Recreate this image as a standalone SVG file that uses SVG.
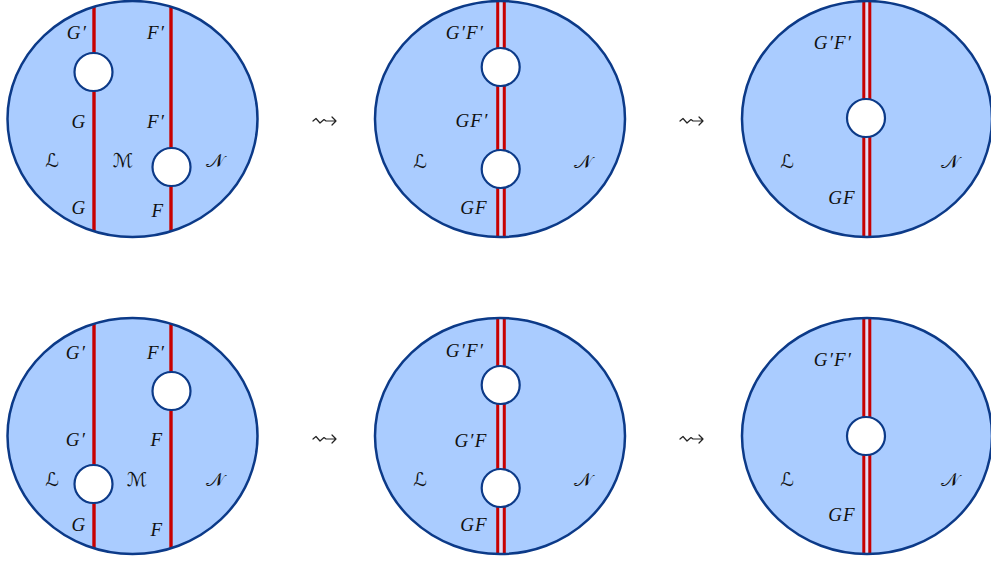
<svg xmlns="http://www.w3.org/2000/svg" width="991" height="562" viewBox="0 0 991 562">
<style>
.disk{fill:#aaccff;stroke:none}
.rim{fill:none;stroke:#0c3a88;stroke-width:2.5}
.hole{fill:#ffffff;stroke:#0c3a88;stroke-width:2.2}
.wire{stroke:#c80000;stroke-width:3.4;fill:none}
.wire2{stroke:#c80000;stroke-width:3;fill:none}
.gap{stroke:#e4dcf2;stroke-width:3.4;fill:none}
.lbl{font-family:"Liberation Serif","DejaVu Serif",serif;font-style:italic;font-size:19px;letter-spacing:1.2px;fill:#111;text-anchor:middle}
.cal{font-family:"DejaVu Serif","DejaVu Sans","Noto Sans",serif;font-size:19px;fill:#111;text-anchor:middle}
.arr{fill:none;stroke:#222;stroke-width:1.2;stroke-linejoin:round;stroke-linecap:round}
</style>
<defs>
<clipPath id="c11"><ellipse cx="132.5" cy="119" rx="125" ry="118"/></clipPath>
<clipPath id="c12"><ellipse cx="500" cy="119" rx="125" ry="118"/></clipPath>
<clipPath id="c13"><ellipse cx="867" cy="119" rx="125" ry="118"/></clipPath>
<clipPath id="c21"><ellipse cx="132.5" cy="436" rx="125" ry="118"/></clipPath>
<clipPath id="c22"><ellipse cx="500" cy="436" rx="125" ry="118"/></clipPath>
<clipPath id="c23"><ellipse cx="867" cy="436" rx="125" ry="118"/></clipPath>
<path id="squig" d="M0,0 L3,-2.5 L7,2 L11,-1.5 L13,0 L23,0 M19,-4 L23,0 L19,4"/>
</defs>

<g id="panel-1-1">
<ellipse class="disk" cx="132.5" cy="119" rx="125" ry="118"/>
<g clip-path="url(#c11)">
<line class="wire" x1="94" y1="0" x2="94" y2="240"/>
<line class="wire" x1="171" y1="0" x2="171" y2="240"/>
</g>
<circle class="hole" cx="93.5" cy="72" r="19"/>
<circle class="hole" cx="171.5" cy="167" r="19"/>
<ellipse class="rim" cx="132.5" cy="119" rx="125" ry="118"/>
<text class="lbl" x="77" y="39">G′</text>
<text class="lbl" x="156" y="39">F′</text>
<text class="lbl" x="79" y="128">G</text>
<text class="lbl" x="156" y="128">F′</text>
<text class="cal" x="52" y="167">ℒ</text>
<text class="cal" x="123" y="167">ℳ</text>
<text class="cal" x="215" y="167">𝒩</text>
<text class="lbl" x="79" y="214">G</text>
<text class="lbl" x="158" y="217">F</text>
</g>

<g id="panel-1-2">
<ellipse class="disk" cx="500" cy="119" rx="125" ry="118"/>
<g clip-path="url(#c12)">
<line class="gap" x1="501" y1="0" x2="501" y2="240"/>
<line class="wire2" x1="497.7" y1="0" x2="497.7" y2="240"/>
<line class="wire2" x1="504.3" y1="0" x2="504.3" y2="240"/>
</g>
<circle class="hole" cx="500.7" cy="67" r="19"/>
<circle class="hole" cx="500.7" cy="169" r="19"/>
<ellipse class="rim" cx="500" cy="119" rx="125" ry="118"/>
<text class="lbl" x="465" y="39">G′F′</text>
<text class="lbl" x="472" y="127">GF′</text>
<text class="cal" x="420" y="168">ℒ</text>
<text class="cal" x="583" y="168">𝒩</text>
<text class="lbl" x="474" y="214">GF</text>
</g>

<g id="panel-1-3">
<ellipse class="disk" cx="867" cy="119" rx="125" ry="118"/>
<g clip-path="url(#c13)">
<line class="gap" x1="866.8" y1="0" x2="866.8" y2="240"/>
<line class="wire2" x1="863.8" y1="0" x2="863.8" y2="240"/>
<line class="wire2" x1="869.8" y1="0" x2="869.8" y2="240"/>
</g>
<circle class="hole" cx="866" cy="118" r="19"/>
<ellipse class="rim" cx="867" cy="119" rx="125" ry="118"/>
<text class="lbl" x="833" y="49">G′F′</text>
<text class="cal" x="787" y="168">ℒ</text>
<text class="cal" x="950" y="168">𝒩</text>
<text class="lbl" x="842" y="204">GF</text>
</g>

<g id="panel-2-1">
<ellipse class="disk" cx="132.5" cy="436" rx="125" ry="118"/>
<g clip-path="url(#c21)">
<line class="wire" x1="94" y1="315" x2="94" y2="560"/>
<line class="wire" x1="171" y1="315" x2="171" y2="560"/>
</g>
<circle class="hole" cx="171.5" cy="391" r="19"/>
<circle class="hole" cx="93.5" cy="484" r="19"/>
<ellipse class="rim" cx="132.5" cy="436" rx="125" ry="118"/>
<text class="lbl" x="76" y="359">G′</text>
<text class="lbl" x="156" y="359">F′</text>
<text class="lbl" x="76" y="446">G′</text>
<text class="lbl" x="157" y="446">F</text>
<text class="cal" x="52" y="486">ℒ</text>
<text class="cal" x="137" y="486">ℳ</text>
<text class="cal" x="215" y="486">𝒩</text>
<text class="lbl" x="79" y="531">G</text>
<text class="lbl" x="157" y="536">F</text>
</g>

<g id="panel-2-2">
<ellipse class="disk" cx="500" cy="436" rx="125" ry="118"/>
<g clip-path="url(#c22)">
<line class="gap" x1="501" y1="315" x2="501" y2="560"/>
<line class="wire2" x1="497.7" y1="315" x2="497.7" y2="560"/>
<line class="wire2" x1="504.3" y1="315" x2="504.3" y2="560"/>
</g>
<circle class="hole" cx="500.7" cy="385" r="19"/>
<circle class="hole" cx="500.7" cy="488" r="19"/>
<ellipse class="rim" cx="500" cy="436" rx="125" ry="118"/>
<text class="lbl" x="465" y="357">G′F′</text>
<text class="lbl" x="471" y="447">G′F</text>
<text class="cal" x="420" y="486">ℒ</text>
<text class="cal" x="583" y="486">𝒩</text>
<text class="lbl" x="474" y="531">GF</text>
</g>

<g id="panel-2-3">
<ellipse class="disk" cx="867" cy="436" rx="125" ry="118"/>
<g clip-path="url(#c23)">
<line class="gap" x1="866.8" y1="315" x2="866.8" y2="560"/>
<line class="wire2" x1="863.8" y1="315" x2="863.8" y2="560"/>
<line class="wire2" x1="869.8" y1="315" x2="869.8" y2="560"/>
</g>
<circle class="hole" cx="866" cy="436" r="19"/>
<ellipse class="rim" cx="867" cy="436" rx="125" ry="118"/>
<text class="lbl" x="833" y="366">G′F′</text>
<text class="cal" x="787" y="486">ℒ</text>
<text class="cal" x="950" y="486">𝒩</text>
<text class="lbl" x="842" y="521">GF</text>
</g>

<g id="connectors">
<use href="#squig" class="arr" x="313" y="121"/>
<use href="#squig" class="arr" x="680" y="121"/>
<use href="#squig" class="arr" x="313" y="439"/>
<use href="#squig" class="arr" x="680" y="439"/>
</g>
</svg>
